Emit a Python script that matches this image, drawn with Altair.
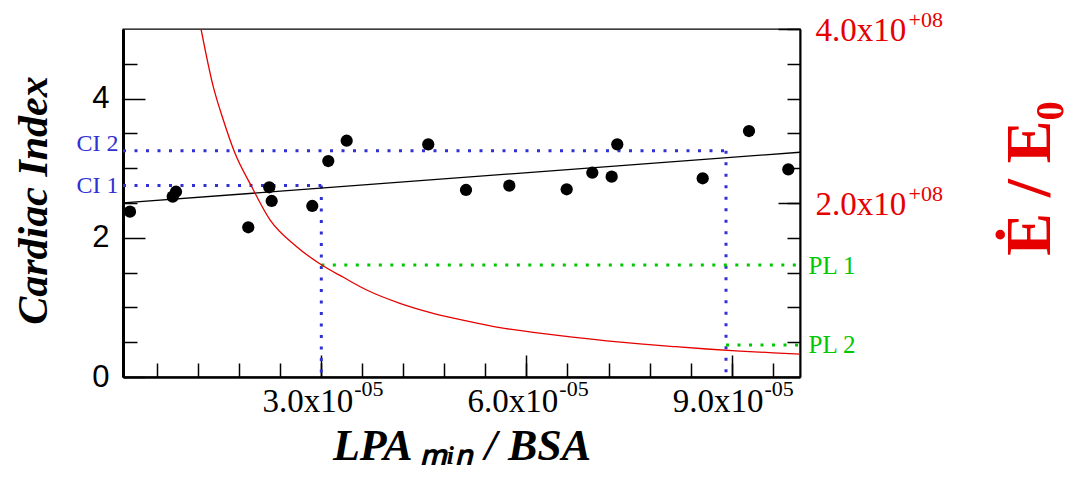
import altair as alt
import pandas as pd

SERIF = "Liberation Serif"
SANS = "Liberation Sans"
BLUE = "#3030d4"
GREEN = "#00c800"
RED = "#e60000"

# ---------------- data ----------------
pt_x = [0.202e-5, 0.827e-5, 0.875e-5, 1.932e-5, 2.239e-5, 2.274e-5, 2.868e-5,
        3.102e-5, 3.371e-5, 4.564e-5, 5.116e-5, 5.749e-5, 6.588e-5, 6.963e-5,
        7.246e-5, 7.328e-5, 8.577e-5, 9.254e-5, 9.829e-5]
pt_ci = [2.375, 2.591, 2.662, 2.151, 2.726, 2.529, 2.457,
         3.103, 3.395, 3.343, 2.687, 2.749, 2.697, 2.935,
         2.878, 3.343, 2.855, 3.534, 2.984]

fit_x = [0.1e-5, 10.0e-5]
fit_ci = [2.501, 3.229]

curve_x = [1.241e-5, 1.420e-5, 1.567e-5, 1.738e-5, 1.982e-5, 2.250e-5, 2.640e-5,
           3.006e-5, 3.322e-5, 3.664e-5, 4.149e-5, 4.636e-5, 5.124e-5, 5.611e-5,
           6.100e-5, 6.490e-5, 7.173e-5, 7.660e-5, 8.147e-5, 8.636e-5, 9.123e-5,
           9.610e-5, 10.0e-5]
curve_e = [4.0e8, 3.337e8, 2.954e8, 2.571e8, 2.187e8, 1.805e8, 1.498e8,
           1.287e8, 1.146e8, 1.000e8, 0.847e8, 0.732e8, 0.644e8, 0.567e8,
           0.514e8, 0.475e8, 0.415e8, 0.380e8, 0.350e8, 0.322e8, 0.298e8,
           0.278e8, 0.264e8]

ci_names = ["CI 1", "CI 2"]
ci_values = [2.752, 3.251]
ci_x = [3.0e-5, 8.918e-5]
pl_names = ["PL 1", "PL 2"]
pl_values = [1.287e8, 0.368e8]

x_domain = [1e-6, 1e-4]
ci_domain = [0, 5]
e_domain = [0, 4e8]

x_major = [3e-5, 6e-5, 9e-5]
x_major_labels = ["3.0x10", "6.0x10", "9.0x10"]
x_major_exps = ["-05", "-05", "-05"]
x_minor = [0.6e-5, 1.2e-5, 1.8e-5, 2.4e-5, 3.6e-5, 4.2e-5, 4.8e-5, 5.4e-5,
           6.6e-5, 7.2e-5, 7.8e-5, 8.4e-5, 9.6e-5]
ci_major = [0, 2, 4]
ci_minor = [0.5, 1, 1.5, 2.5, 3, 3.5, 4.5]
e_major = [2e8, 4e8]
e_major_labels = ["2.0x10", "4.0x10"]
e_major_exps = ["+08", "+08"]
e_minor = [0.4e8, 0.8e8, 1.2e8, 1.6e8, 2.4e8, 2.8e8, 3.2e8, 3.6e8]

x_title = "LPA \u2098\u1d62\u2099 / BSA"
ci_title = "Cardiac Index"
e_title = "\u0116 / E\u2080"

# ---------------- tables ----------------
df_pts = pd.DataFrame({"x": pt_x, "ci": pt_ci})
df_fit = pd.DataFrame({"x": fit_x, "ci": fit_ci})
df_curve = pd.DataFrame({"x": curve_x, "e": curve_e})
df_ci = pd.DataFrame({"x0": [x_domain[0]] * 2, "x": ci_x, "ci": ci_values,
                      "base": [ci_domain[0]] * 2, "name": ci_names})
df_pl = pd.DataFrame({"x": ci_x, "x1": [x_domain[1]] * 2, "e": pl_values, "name": pl_names})


def label_expr(values, labels):
    return "".join(f"abs(datum.value / {v} - 1) < 1e-6 ? '{l}' : " for v, l in zip(values, labels)) + "''"


xs = alt.Scale(domain=x_domain, nice=False, zero=False)
ys = alt.Scale(domain=ci_domain, nice=False, zero=False)
es = alt.Scale(domain=e_domain, nice=False, zero=False)

common = dict(grid=False, labelFlush=False, labelOverlap=False, labelBound=False,
              tickColor="black", tickWidth=1.5, domainColor="black")

# bottom: long ticks + mantissa labels
x_major_axis = alt.Axis(orient="bottom", values=x_major, labelExpr=label_expr(x_major, x_major_labels),
                        tickSize=22, offset=-22, domain=False, title=None,
                        labelFont=SERIF, labelFontSize=33, labelColor="black", labelPadding=8,
                        labelOffset=-14, **common)
# bottom: short ticks + exponent labels
x_minor_axis = alt.Axis(orient="bottom", values=x_minor + x_major,
                        labelExpr=label_expr(x_major, x_major_exps),
                        tickSize=14, offset=-14, domain=False, title=None,
                        labelFont=SERIF, labelFontSize=22, labelColor="black", labelPadding=1,
                        labelOffset=47, **common)
x_frame_axis = alt.Axis(orient="bottom", domain=True, domainWidth=2.5, ticks=False, labels=False,
                        grid=False, title=x_title, titleFont=SERIF, titleFontSize=44,
                        titleFontWeight="bold", titleFontStyle="italic", titleColor="black",
                        titleX=338.5, titleY=82, titleAlign="center", titleBaseline="alphabetic",
                        titleAngle=0, domainColor="black")

y_major_axis = alt.Axis(orient="left", values=ci_major, tickSize=22, offset=-22, domain=False,
                        title=None, format="d", labelFont=SANS, labelFontSize=31,
                        labelColor="black", labelPadding=14, **common)
y_minor_axis = alt.Axis(orient="left", values=ci_minor, tickSize=14, offset=-14, domain=False,
                        labels=False, title=None, **common)
y_ci_axis = alt.Axis(orient="left", values=ci_values, labelExpr=label_expr(ci_values, ci_names),
                     ticks=False, domain=True, domainWidth=3, domainColor="black", grid=False,
                     labelFont=SERIF, labelFontSize=24, labelColor=BLUE, labelPadding=5,
                     labelFlush=False, labelOverlap=False, labelBound=False,
                     labelBaseline={"condition": {"test": "datum.value > 3", "value": "alphabetic"},
                                    "value": "middle"},
                     title=ci_title, titleFont=SERIF, titleFontSize=42, titleFontWeight="bold",
                     titleFontStyle="italic", titleColor="black", titleAngle=270,
                     titleX=-77, titleY=171, titleAlign="center", titleBaseline="alphabetic")

# right: long ticks + mantissa labels
e_major_axis = alt.Axis(orient="right", values=e_major, labelExpr=label_expr(e_major, e_major_labels),
                        tickSize=22, offset=-22, domain=False, title=None,
                        labelFont=SERIF, labelFontSize=33, labelColor=RED, labelPadding=15,
                        labelOffset=1, **common)
# right: short ticks + exponent labels
e_minor_axis = alt.Axis(orient="right", values=e_minor + e_major,
                        labelExpr=label_expr(e_major, e_major_exps),
                        tickSize=13, offset=-13, domain=False, title=None,
                        labelFont=SERIF, labelFontSize=22, labelColor=RED, labelPadding=108,
                        labelOffset=-10, **common)
e_pl_axis = alt.Axis(orient="right", values=pl_values, labelExpr=label_expr(pl_values, pl_names),
                     ticks=False, domain=True, domainWidth=2, domainColor="black", grid=False,
                     labelFont=SERIF, labelFontSize=25, labelColor=GREEN, labelPadding=8,
                     labelFlush=False, labelOverlap=False, labelBound=False,
                     title=e_title, titleFont=SERIF, titleFontSize=64, titleFontWeight="bold",
                     titleColor=RED, titleAngle=270, titleX=249, titleY=149,
                     titleAlign="center", titleBaseline="alphabetic")

dots = dict(strokeWidth=3, strokeDash=[3, 8.5], strokeCap="butt")

ci_h = alt.Chart(df_ci).mark_rule(color=BLUE, **dots).encode(
    x=alt.X("x0:Q", scale=xs, axis=None), x2="x:Q",
    y=alt.Y("ci:Q", scale=ys, axis=y_ci_axis))

ci_v = alt.Chart(df_ci).mark_rule(color=BLUE, **dots).encode(
    x=alt.X("x:Q", scale=xs, axis=x_frame_axis),
    y=alt.Y("ci:Q", scale=ys, axis=None), y2="base:Q")

pl1 = alt.Chart(df_pl.iloc[[0]]).mark_rule(color=GREEN, **dots).encode(
    x=alt.X("x:Q", scale=xs, axis=None), x2="x1:Q",
    y=alt.Y("e:Q", scale=es, axis=e_minor_axis))

pl2 = alt.Chart(df_pl.iloc[[1]]).mark_rule(color=GREEN, **dots).encode(
    x=alt.X("x:Q", scale=xs, axis=None), x2="x1:Q",
    y=alt.Y("e:Q", scale=es, axis=e_pl_axis))

fit = alt.Chart(df_fit).mark_line(color="black", strokeWidth=1.3).encode(
    x=alt.X("x:Q", scale=xs, axis=x_minor_axis),
    y=alt.Y("ci:Q", scale=ys, axis=y_minor_axis))

curve = alt.Chart(df_curve).mark_line(color=RED, strokeWidth=1.3, interpolate="monotone", clip=True).encode(
    x=alt.X("x:Q", scale=xs, axis=None),
    y=alt.Y("e:Q", scale=es, axis=e_major_axis))

pts = alt.Chart(df_pts).mark_circle(size=150, color="black", opacity=1).encode(
    x=alt.X("x:Q", scale=xs, axis=x_major_axis),
    y=alt.Y("ci:Q", scale=ys, axis=y_major_axis))

chart = alt.layer(ci_h, ci_v, pl1, pl2, fit, curve, pts).resolve_scale(
    x="independent", y="independent").resolve_axis(x="independent", y="independent").properties(
    width=677, height=348,
    padding={"left": 115, "top": 21, "right": 265, "bottom": 93},
    autosize=alt.AutoSizeParams(type="none"),
    background="white",
).configure_view(stroke="black", strokeWidth=1.3)

chart.save("out.html", embed_options={"renderer": "svg", "actions": False})
